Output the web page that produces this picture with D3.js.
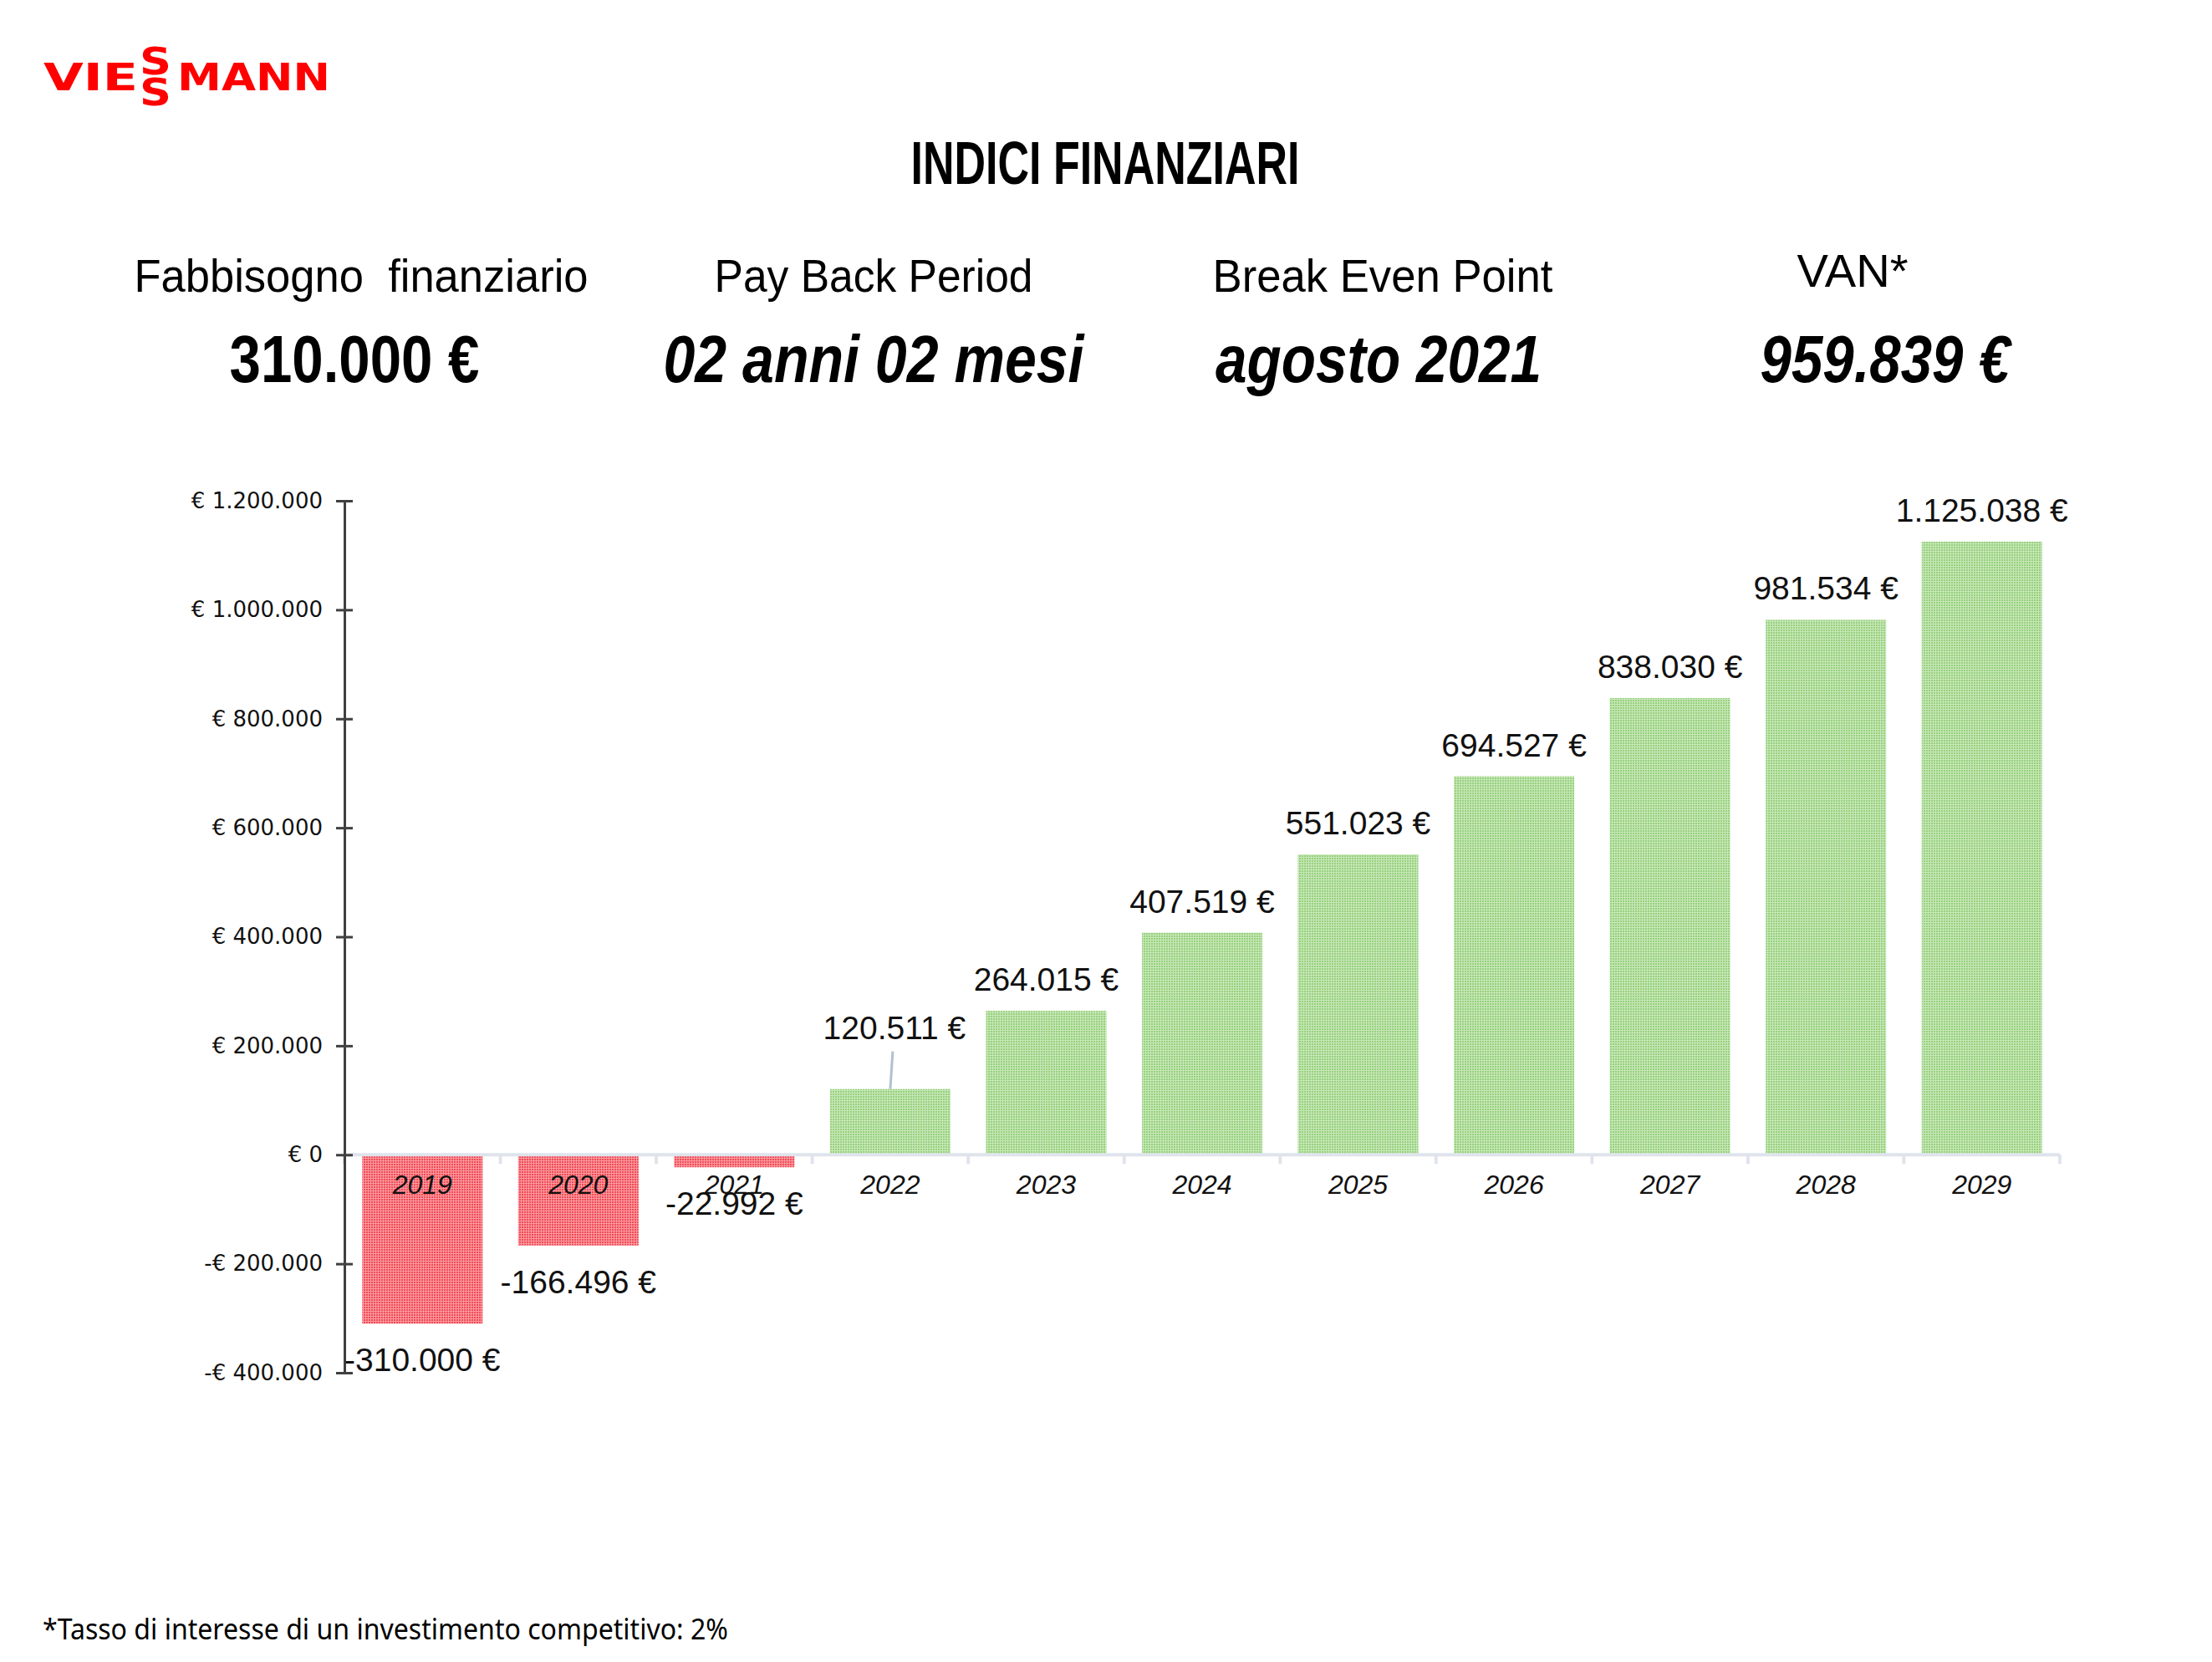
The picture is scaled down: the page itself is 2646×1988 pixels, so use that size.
<!DOCTYPE html>
<meta charset="utf-8">
<style>
body { margin: 0; background: #fff; }
svg { display: block; }
</style>
<body>
<svg id="chart" width="2646" height="1988" font-family="Liberation Sans, Arial, sans-serif"></svg>
</body>
<script src="https://d3js.org/d3.v7.min.js"></script>
<script>
// data
var years = ["2019", "2020", "2021", "2022", "2023", "2024", "2025", "2026", "2027", "2028", "2029"];
var cashflow = [-310000, -166496, -22992, 120511, 264015, 407519, 551023, 694527, 838030, 981534, 1125038];
var yTicks = [-400000, -200000, 0, 200000, 400000, 600000, 800000, 1000000, 1200000];
var kpiTitles = ["Fabbisogno  finanziario", "Pay Back Period", "Break Even Point", "VAN*"];
var kpiValues = ["310.000 €", "02 anni 02 mesi", "agosto 2021", "959.839 €"];
var title = "INDICI FINANZIARI";
var footnote = "*Tasso di interesse di un investimento competitivo: 2%";

var W = 2646, H = 1988;
var svg = d3.select("#chart");
svg.append("rect").attr("width", W).attr("height", H).attr("fill", "#fff");

var it = d3.formatLocale({ decimal: ",", thousands: ".", grouping: [3], currency: ["", ""] });
var num = it.format(",d");
function tickFmt(v) { return (v < 0 ? "-€ " : "€ ") + num(Math.abs(v)); }
function labelFmt(v) { return (v < 0 ? "-" : "") + num(Math.abs(v)) + " €"; }

// bar textures (fine grid like the original)
var defs = svg.append("defs");
function texture(id, base, line) {
  var p = defs.append("pattern").attr("id", id).attr("width", 3).attr("height", 3)
    .attr("patternUnits", "userSpaceOnUse");
  p.append("rect").attr("width", 3).attr("height", 3).attr("fill", line);
  p.append("rect").attr("width", 2).attr("height", 2).attr("fill", base);
}
texture("texRed", "#f24a55", "#fa9aa0");
texture("texGreen", "#96d07e", "#c8e8b8");

// logo
var logo = svg.append("g").attr("fill", "#ff0000").attr("font-weight", "bold")
  .attr("font-family", "DejaVu Sans, sans-serif");
logo.append("text").attr("x", 52).attr("y", 108).attr("font-size", 45)
  .attr("textLength", 113).attr("lengthAdjust", "spacingAndGlyphs").text("VIE");
logo.append("text").attr("x", 167).attr("y", 89).attr("font-size", 44)
  .attr("textLength", 38).attr("lengthAdjust", "spacingAndGlyphs").text("S");
logo.append("text").attr("x", 167).attr("y", 126).attr("font-size", 44)
  .attr("textLength", 38).attr("lengthAdjust", "spacingAndGlyphs").text("S");
logo.append("text").attr("x", 212).attr("y", 108).attr("font-size", 45)
  .attr("textLength", 183).attr("lengthAdjust", "spacingAndGlyphs").text("MANN");

// title
svg.append("text").attr("x", 1322).attr("y", 220).attr("text-anchor", "middle")
  .attr("font-size", 72).attr("font-weight", "bold")
  .attr("textLength", 465).attr("lengthAdjust", "spacingAndGlyphs").text(title);

// KPI row
var kpiX = [432, 1045, 1654, 2216];
var kpiVX = [424, 1045, 1649, 2255];
var titleW = [543, 381, 407, 133];
var valueW = [299, 503, 390, 299];
kpiTitles.forEach(function (t, i) {
  svg.append("text").attr("x", kpiX[i]).attr("y", i == 3 ? 343 : 349).attr("text-anchor", "middle")
    .attr("font-size", 56).style("white-space", "pre")
    .attr("textLength", titleW[i]).attr("lengthAdjust", "spacingAndGlyphs")
    .text(t);
  svg.append("text").attr("x", kpiVX[i]).attr("y", 457).attr("text-anchor", "middle")
    .attr("font-size", 80).attr("font-weight", "bold")
    .attr("font-style", i == 0 ? "normal" : "italic")
    .attr("textLength", valueW[i]).attr("lengthAdjust", "spacingAndGlyphs")
    .text(kpiValues[i]);
});

// chart
var plotL = 412, plotR = 2464, plotT = 599, plotB = 1642;
var y = d3.scaleLinear().domain([-400000, 1200000]).range([plotB, plotT]);
var x = d3.scaleBand().domain(years).range([plotL, plotR]).paddingInner(0.228).paddingOuter(0.114);
var pad = x.step() * x.paddingInner() / 2;

// bars
svg.append("g").selectAll("rect").data(cashflow).join("rect")
  .attr("x", function (d, i) { return x(years[i]); })
  .attr("width", x.bandwidth())
  .attr("y", function (d) { return y(Math.max(0, d)); })
  .attr("height", function (d) { return Math.abs(y(d) - y(0)); })
  .attr("fill", function (d) { return d < 0 ? "url(#texRed)" : "url(#texGreen)"; });

// x axis (category line at zero)
var xa = svg.append("g").attr("stroke", "#dfe4ec").attr("stroke-width", 4);
xa.append("line").attr("x1", plotL).attr("x2", plotR).attr("y1", y(0)).attr("y2", y(0));
var bounds = years.map(function (d) { return x(d) - pad; }).concat([plotR]);
xa.selectAll("line.tk").data(bounds).join("line").attr("class", "tk")
  .attr("x1", function (d) { return d; }).attr("x2", function (d) { return d; })
  .attr("y1", y(0)).attr("y2", y(0) + 11);

svg.append("g").selectAll("text").data(years).join("text")
  .attr("x", function (d) { return x(d) + x.bandwidth() / 2; })
  .attr("y", y(0) + 47)
  .attr("text-anchor", "middle").attr("font-size", 32).attr("font-style", "italic")
  .attr("fill", "#111").text(function (d) { return d; });

// y axis
var yAxis = d3.axisLeft(y).tickValues(yTicks).tickFormat(tickFmt).tickSizeInner(10).tickSizeOuter(0).tickPadding(16);
var yg = svg.append("g").attr("transform", "translate(" + plotL + ",0)").call(yAxis);
yg.attr("font-family", null).attr("font-size", null);
yg.select(".domain").attr("stroke", "#404040").attr("stroke-width", 3);
yg.selectAll(".tick line").attr("stroke", "#404040").attr("stroke-width", 3).attr("x1", 10);
yg.selectAll(".tick text").style("font-family", "DejaVu Sans, sans-serif").style("font-size", "26px")
  .attr("fill", "#111");

// data labels
var moved = 3; // 2022 label lifted with a leader line
var labels = svg.append("g").attr("font-size", 39).attr("fill", "#111");
cashflow.forEach(function (v, i) {
  var cx = x(years[i]) + x.bandwidth() / 2;
  var ty;
  if (v < 0) ty = y(v) + 57;
  else if (i == moved) ty = y(v) - 60;
  else ty = y(v) - 24;
  labels.append("text").attr("x", cx + (i == moved ? 5 : 0)).attr("y", ty)
    .attr("text-anchor", "middle").text(labelFmt(v));
  if (i == moved) {
    svg.append("line").attr("x1", cx + 3).attr("y1", ty + 15).attr("x2", cx).attr("y2", y(v))
      .attr("stroke", "#b4c0d0").attr("stroke-width", 3);
  }
});

// footnote
svg.append("text").attr("x", 51).attr("y", 1961).attr("font-size", 35)
  .style("font-family", "Noto Sans, sans-serif")
  .attr("textLength", 820).attr("lengthAdjust", "spacingAndGlyphs").text(footnote);
</script>
